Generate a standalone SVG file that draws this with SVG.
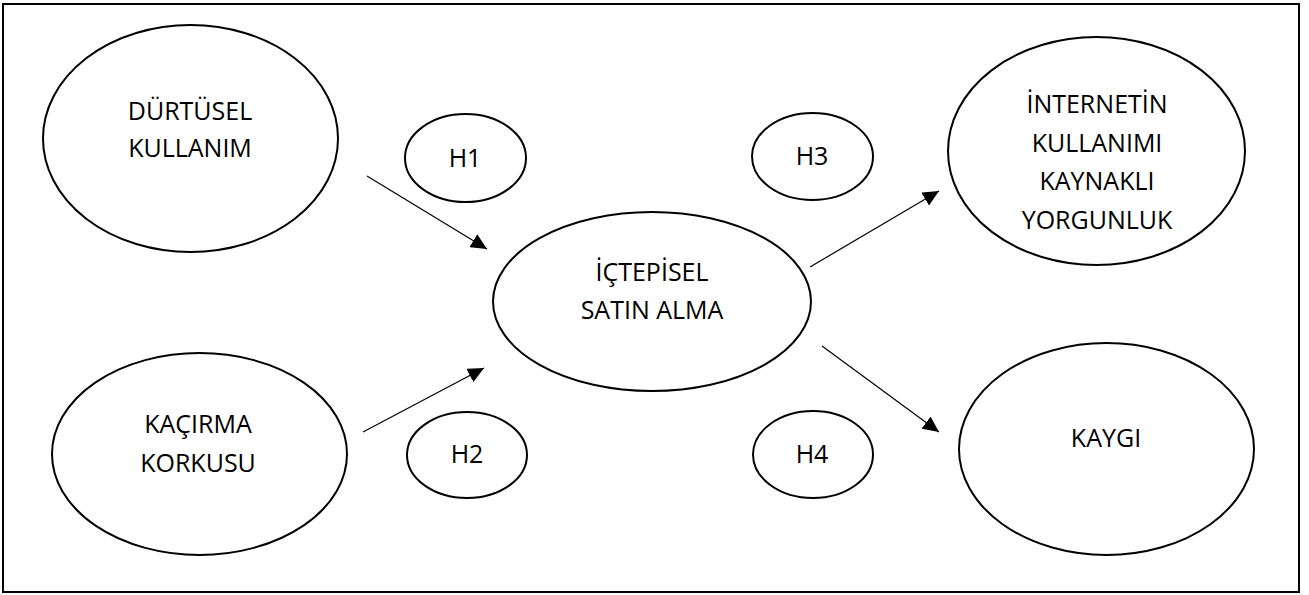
<svg xmlns="http://www.w3.org/2000/svg" width="1309" height="595" viewBox="0 0 1309 595">
  <style>
    .node { fill: #ffffff; stroke: #000000; stroke-width: 2; }
    .lbl { font-family: "Open Sans", "Liberation Sans", sans-serif; font-size: 25px; fill: #000000; text-anchor: middle; }
    .edge { stroke: #000000; stroke-width: 1.2; fill: none; marker-end: url(#arrow); }
    .frame { fill: #ffffff; stroke: #000000; stroke-width: 2; }
  </style>
  <defs>
    <marker id="arrow" markerUnits="userSpaceOnUse" markerWidth="16" markerHeight="15" refX="16" refY="7.5" orient="auto" viewBox="0 0 16 15">
      <path d="M0,0 L16,7.5 L0,15 z" fill="#000000"/>
    </marker>
  </defs>
  <rect class="frame" x="3" y="4" width="1296" height="588"/>

  <g id="n-durtusel">
    <ellipse class="node" cx="190.5" cy="138.5" rx="147.5" ry="113.5"/>
    <text class="lbl" x="190" y="120">DÜRTÜSEL</text>
    <text class="lbl" x="190" y="157">KULLANIM</text>
  </g>
  <g id="n-kacirma">
    <ellipse class="node" cx="199.5" cy="454" rx="147.5" ry="101"/>
    <text class="lbl" x="198" y="433">KAÇIRMA</text>
    <text class="lbl" x="198" y="472">KORKUSU</text>
  </g>
  <g id="n-ictepisel">
    <ellipse class="node" cx="652" cy="301.5" rx="159" ry="89.5"/>
    <text class="lbl" x="652" y="281">İÇTEPİSEL</text>
    <text class="lbl" x="652" y="319">SATIN ALMA</text>
  </g>
  <g id="n-internet">
    <ellipse class="node" cx="1096.5" cy="151" rx="148.5" ry="114"/>
    <text class="lbl" x="1097" y="113">İNTERNETİN</text>
    <text class="lbl" x="1097" y="152">KULLANIMI</text>
    <text class="lbl" x="1097" y="190">KAYNAKLI</text>
    <text class="lbl" x="1097" y="229">YORGUNLUK</text>
  </g>
  <g id="n-kaygi">
    <ellipse class="node" cx="1106.5" cy="449" rx="147.5" ry="106"/>
    <text class="lbl" x="1106" y="447">KAYGI</text>
  </g>
  <g id="n-h1">
    <ellipse class="node" cx="465.5" cy="158" rx="60.5" ry="44"/>
    <text class="lbl" x="465" y="167">H1</text>
  </g>
  <g id="n-h2">
    <ellipse class="node" cx="467" cy="455" rx="60" ry="43"/>
    <text class="lbl" x="467" y="463">H2</text>
  </g>
  <g id="n-h3">
    <ellipse class="node" cx="812.5" cy="156.5" rx="60.5" ry="43.5"/>
    <text class="lbl" x="812" y="165">H3</text>
  </g>
  <g id="n-h4">
    <ellipse class="node" cx="813" cy="454.5" rx="60" ry="43.5"/>
    <text class="lbl" x="812" y="463">H4</text>
  </g>

  <g id="connectors">
    <line class="edge" x1="367" y1="176" x2="487" y2="249"/>
    <line class="edge" x1="363" y1="432" x2="484" y2="368"/>
    <line class="edge" x1="810" y1="267" x2="939" y2="191"/>
    <line class="edge" x1="822" y1="346" x2="939" y2="432"/>
  </g>
</svg>
